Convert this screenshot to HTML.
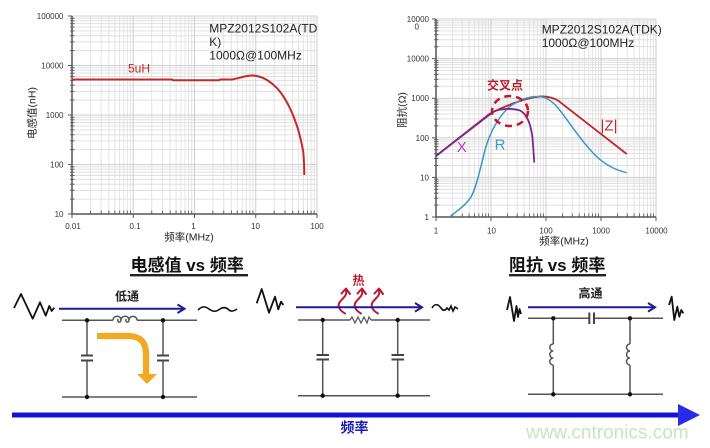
<!DOCTYPE html>
<html><head><meta charset="utf-8">
<style>
html,body{margin:0;padding:0;background:#fff;}
svg{display:block;}
text{font-family:"Liberation Sans","Noto Sans CJK SC",sans-serif;}
</style></head><body>
<svg width="710" height="448" viewBox="0 0 710 448" xmlns="http://www.w3.org/2000/svg">
<defs>
<g id="lv" stroke="#e4e4e4" stroke-width="1">
<line x1="18.44" y1="16" x2="18.44" y2="214"/><line x1="29.22" y1="16" x2="29.22" y2="214"/><line x1="36.87" y1="16" x2="36.87" y2="214"/><line x1="42.81" y1="16" x2="42.81" y2="214"/><line x1="47.65" y1="16" x2="47.65" y2="214"/><line x1="51.76" y1="16" x2="51.76" y2="214"/><line x1="55.31" y1="16" x2="55.31" y2="214"/><line x1="58.43" y1="16" x2="58.43" y2="214"/>
</g>
<g id="lh" stroke="#e0e0e0" stroke-width="1">
<line x1="72" y1="-14.9" x2="317" y2="-14.9"/><line x1="72" y1="-23.62" x2="317" y2="-23.62"/><line x1="72" y1="-29.8" x2="317" y2="-29.8"/><line x1="72" y1="-34.6" x2="317" y2="-34.6"/><line x1="72" y1="-38.51" x2="317" y2="-38.51"/><line x1="72" y1="-41.83" x2="317" y2="-41.83"/><line x1="72" y1="-44.7" x2="317" y2="-44.7"/><line x1="72" y1="-47.22" x2="317" y2="-47.22"/>
</g>
<g id="ltx" stroke="#666" stroke-width="1">
<line x1="18.44" y1="210.5" x2="18.44" y2="214"/><line x1="29.22" y1="210.5" x2="29.22" y2="214"/><line x1="36.87" y1="210.5" x2="36.87" y2="214"/><line x1="42.81" y1="210.5" x2="42.81" y2="214"/><line x1="47.65" y1="210.5" x2="47.65" y2="214"/><line x1="51.76" y1="210.5" x2="51.76" y2="214"/><line x1="55.31" y1="210.5" x2="55.31" y2="214"/><line x1="58.43" y1="210.5" x2="58.43" y2="214"/>
</g>
<g id="lty" stroke="#666" stroke-width="1">
<line x1="70" y1="-14.9" x2="74.5" y2="-14.9"/><line x1="70" y1="-23.62" x2="74.5" y2="-23.62"/><line x1="70" y1="-29.8" x2="74.5" y2="-29.8"/><line x1="70" y1="-34.6" x2="74.5" y2="-34.6"/><line x1="70" y1="-38.51" x2="74.5" y2="-38.51"/><line x1="70" y1="-41.83" x2="74.5" y2="-41.83"/><line x1="70" y1="-44.7" x2="74.5" y2="-44.7"/><line x1="70" y1="-47.22" x2="74.5" y2="-47.22"/>
</g>
<g id="rv" stroke="#e4e4e4" stroke-width="1">
<line x1="16.56" y1="19" x2="16.56" y2="217"/><line x1="26.24" y1="19" x2="26.24" y2="217"/><line x1="33.11" y1="19" x2="33.11" y2="217"/><line x1="38.44" y1="19" x2="38.44" y2="217"/><line x1="42.79" y1="19" x2="42.79" y2="217"/><line x1="46.48" y1="19" x2="46.48" y2="217"/><line x1="49.67" y1="19" x2="49.67" y2="217"/><line x1="52.47" y1="19" x2="52.47" y2="217"/>
</g>
<g id="rh" stroke="#e0e0e0" stroke-width="1">
<line x1="436" y1="-11.92" x2="656" y2="-11.92"/><line x1="436" y1="-18.89" x2="656" y2="-18.89"/><line x1="436" y1="-23.84" x2="656" y2="-23.84"/><line x1="436" y1="-27.68" x2="656" y2="-27.68"/><line x1="436" y1="-30.81" x2="656" y2="-30.81"/><line x1="436" y1="-33.46" x2="656" y2="-33.46"/><line x1="436" y1="-35.76" x2="656" y2="-35.76"/><line x1="436" y1="-37.78" x2="656" y2="-37.78"/>
</g>
<g id="rtx" stroke="#666" stroke-width="1">
<line x1="16.56" y1="213.5" x2="16.56" y2="217"/><line x1="26.24" y1="213.5" x2="26.24" y2="217"/><line x1="33.11" y1="213.5" x2="33.11" y2="217"/><line x1="38.44" y1="213.5" x2="38.44" y2="217"/><line x1="42.79" y1="213.5" x2="42.79" y2="217"/><line x1="46.48" y1="213.5" x2="46.48" y2="217"/><line x1="49.67" y1="213.5" x2="49.67" y2="217"/><line x1="52.47" y1="213.5" x2="52.47" y2="217"/>
</g>
<g id="rty" stroke="#666" stroke-width="1">
<line x1="434" y1="-11.92" x2="438.5" y2="-11.92"/><line x1="434" y1="-18.89" x2="438.5" y2="-18.89"/><line x1="434" y1="-23.84" x2="438.5" y2="-23.84"/><line x1="434" y1="-27.68" x2="438.5" y2="-27.68"/><line x1="434" y1="-30.81" x2="438.5" y2="-30.81"/><line x1="434" y1="-33.46" x2="438.5" y2="-33.46"/><line x1="434" y1="-35.76" x2="438.5" y2="-35.76"/><line x1="434" y1="-37.78" x2="438.5" y2="-37.78"/>
</g>
<g id="ha" fill="none" stroke="#c0182c" stroke-width="2" stroke-linecap="round" stroke-linejoin="round">
<path d="M1,0 C-6,-4 -7,-9 -3,-13 C1,-17 3,-19 2,-23"/>
<path d="M-2.5,-20 L2,-25 L6,-19.5"/>
</g>
</defs>

<!-- LEFT CHART grid -->
<use href="#lv" x="72"/><use href="#lv" x="133.25"/><use href="#lv" x="194.5"/><use href="#lv" x="255.75"/>
<use href="#lh" y="214"/><use href="#lh" y="164.5"/><use href="#lh" y="115"/><use href="#lh" y="65.5"/>
<g stroke="#cfcfcf" stroke-width="1">
<line x1="133.25" y1="16" x2="133.25" y2="214"/><line x1="194.5" y1="16" x2="194.5" y2="214"/><line x1="255.75" y1="16" x2="255.75" y2="214"/><line x1="317" y1="16" x2="317" y2="214"/>
<line x1="72" y1="164.5" x2="317" y2="164.5"/><line x1="72" y1="115" x2="317" y2="115"/><line x1="72" y1="65.5" x2="317" y2="65.5"/><line x1="72" y1="16" x2="317" y2="16"/>
</g>
<use href="#ltx" x="72"/><use href="#ltx" x="133.25"/><use href="#ltx" x="194.5"/><use href="#ltx" x="255.75"/>
<use href="#lty" y="214"/><use href="#lty" y="164.5"/><use href="#lty" y="115"/><use href="#lty" y="65.5"/>
<g stroke="#555" stroke-width="1">
<line x1="68" y1="16" x2="72" y2="16"/><line x1="68" y1="65.5" x2="72" y2="65.5"/><line x1="68" y1="115" x2="72" y2="115"/><line x1="68" y1="164.5" x2="72" y2="164.5"/><line x1="68" y1="214" x2="72" y2="214"/>
<line x1="72" y1="214" x2="72" y2="218"/><line x1="133.25" y1="214" x2="133.25" y2="218"/><line x1="194.5" y1="214" x2="194.5" y2="218"/><line x1="255.75" y1="214" x2="255.75" y2="218"/><line x1="317" y1="214" x2="317" y2="218"/>
</g>
<g stroke="#555" stroke-width="1.5">
<line x1="72" y1="16" x2="72" y2="214"/><line x1="72" y1="214" x2="317" y2="214"/>
</g>
<g font-size="8" fill="#333" text-anchor="end">
<text x="63.5" y="19">100000</text><text x="63.5" y="68.5">10000</text><text x="63.5" y="118">1000</text><text x="63.5" y="167.5">100</text><text x="63.5" y="217">10</text>
</g>
<g font-size="8" fill="#333" text-anchor="middle">
<text x="73" y="229">0.01</text><text x="135" y="229">0.1</text><text x="193.5" y="229">1</text><text x="255.5" y="229">10</text><text x="317" y="229">100</text>
</g>
<text x="189" y="240.5" font-size="10.5" fill="#222" text-anchor="middle">频率(MHz)</text>
<text transform="translate(35.5,113) rotate(-90)" font-size="10.5" fill="#222" text-anchor="middle">电感值(nH)</text>
<g font-size="12" fill="#222">
<text x="209.3" y="32.5">MPZ2012S102A(TD</text><text x="209.3" y="46">K)</text><text x="209.3" y="59.5">1000Ω@100MHz</text>
</g>
<text x="128" y="72.5" font-size="12" fill="#c62828">5uH</text>
<path d="M72,79.5 L172,79.5 L173,80.3 L219,80.3 L220,79.5 L232,79.5 C240,78 246,75.5 252,75.5 C258,75.5 262,77 267,80 C275,85 281,92 285,99 C290,107 294,117 297,126 C300,135 302,145 303.3,152 C304,160 304.3,168 304.3,175" fill="none" stroke="#c62828" stroke-width="2"/>

<!-- RIGHT CHART grid -->
<use href="#rv" x="436"/><use href="#rv" x="491"/><use href="#rv" x="546"/><use href="#rv" x="601"/>
<use href="#rh" y="217"/><use href="#rh" y="177.4"/><use href="#rh" y="137.8"/><use href="#rh" y="98.2"/><use href="#rh" y="58.6"/>
<g stroke="#cfcfcf" stroke-width="1">
<line x1="491" y1="19" x2="491" y2="217"/><line x1="546" y1="19" x2="546" y2="217"/><line x1="601" y1="19" x2="601" y2="217"/><line x1="656" y1="19" x2="656" y2="217"/>
<line x1="436" y1="177.4" x2="656" y2="177.4"/><line x1="436" y1="137.8" x2="656" y2="137.8"/><line x1="436" y1="98.2" x2="656" y2="98.2"/><line x1="436" y1="58.6" x2="656" y2="58.6"/><line x1="436" y1="19" x2="656" y2="19"/>
</g>
<use href="#rtx" x="436"/><use href="#rtx" x="491"/><use href="#rtx" x="546"/><use href="#rtx" x="601"/>
<use href="#rty" y="217"/><use href="#rty" y="177.4"/><use href="#rty" y="137.8"/><use href="#rty" y="98.2"/><use href="#rty" y="58.6"/>
<g stroke="#555" stroke-width="1">
<line x1="432" y1="19" x2="436" y2="19"/><line x1="432" y1="58.6" x2="436" y2="58.6"/><line x1="432" y1="98.2" x2="436" y2="98.2"/><line x1="432" y1="137.8" x2="436" y2="137.8"/><line x1="432" y1="177.4" x2="436" y2="177.4"/><line x1="432" y1="217" x2="436" y2="217"/>
<line x1="436" y1="217" x2="436" y2="221"/><line x1="491" y1="217" x2="491" y2="221"/><line x1="546" y1="217" x2="546" y2="221"/><line x1="601" y1="217" x2="601" y2="221"/><line x1="656" y1="217" x2="656" y2="221"/>
</g>
<g stroke="#555" stroke-width="1.5">
<line x1="436" y1="19" x2="436" y2="217"/><line x1="436" y1="217" x2="656" y2="217"/>
</g>
<g font-size="8" fill="#333" text-anchor="end">
<text x="429" y="22">10000</text><text x="429" y="61.6">10000</text><text x="429" y="101.2">1000</text><text x="429" y="140.8">100</text><text x="429" y="180.4">10</text><text x="429" y="220">1</text>
</g>
<text x="414.5" y="29.5" font-size="8" fill="#333">0</text>
<g font-size="8" fill="#333" text-anchor="middle">
<text x="436" y="233.5">1</text><text x="491.5" y="233.5">10</text><text x="546" y="233.5">100</text><text x="601" y="233.5">1000</text><text x="656.5" y="233.5">10000</text>
</g>
<text x="564" y="244.5" font-size="10.5" fill="#222" text-anchor="middle">频率(MHz)</text>
<text transform="translate(405.5,110) rotate(-90)" font-size="10.5" fill="#222" text-anchor="middle">阻抗(Ω)</text>
<g font-size="12" fill="#222">
<text x="541.7" y="33.5">MPZ2012S102A(TDK)</text><text x="541.7" y="47">1000Ω@100MHz</text>
</g>
<!-- curves -->
<path d="M436,156 L490,113.5 C505,106 525,98 540,96.5 C548,96 553,98 558,100.5 L626.7,154" fill="none" stroke="#c0282e" stroke-width="1.8"/>
<path d="M450,216.7 C458,210 466,205 471,197 C476,188 480,170 485,150 C490,132 498,118 508,108 C518,100 528,96.5 538,96.5 C546,96.5 552,101 558,108 C568,120 580,140 595,155 C605,165 615,170 626.7,172.7" fill="none" stroke="#3a96c8" stroke-width="1.5"/>
<path d="M436,156 L493,112 C500,108.5 512,108 520,110.5 C527,114 531,125 532.5,138 L534.3,162.5" fill="none" stroke="#7a2a8e" stroke-width="1.8"/>
<ellipse cx="510" cy="111" rx="18" ry="15" fill="none" stroke="#c0182c" stroke-width="2.5" stroke-dasharray="7,5"/>
<text x="505" y="89.5" font-size="12" font-weight="bold" fill="#b81c2c" text-anchor="middle">交叉点</text>
<text x="461.7" y="152" font-size="15" fill="#b040c0" text-anchor="middle">X</text>
<text x="500" y="149.5" font-size="15" fill="#3a9ac8" text-anchor="middle">R</text>
<text x="609" y="130.5" font-size="15" fill="#c0282e" text-anchor="middle">|Z|</text>

<!-- TITLES -->
<text x="130.5" y="271" font-size="17" font-weight="bold" fill="#111">电感值 vs 频率</text>
<rect x="130" y="274" width="118" height="2.4" fill="#222"/>
<text x="509" y="271" font-size="17" font-weight="bold" fill="#111">阻抗 vs 频率</text>
<rect x="509" y="274" width="97" height="2.4" fill="#222"/>

<!-- LEFT CIRCUIT -->
<polyline points="14,308 21,294 32.7,318.7 40,302.3 45.7,315.7 49.3,306 51.7,311 54.3,307.7" fill="none" stroke="#111" stroke-width="1.8" stroke-linejoin="round"/>
<text x="127" y="300.5" font-size="12" font-weight="bold" fill="#222" text-anchor="middle">低通</text>
<line x1="59" y1="308.7" x2="183" y2="308.7" stroke="#1c1c9c" stroke-width="2"/>
<polyline points="177.5,304.5 184.5,308.7 177.5,313" fill="none" stroke="#1c1c9c" stroke-width="2"/>
<path d="M198,310 C202,306 205,306 209,309 C213,312 216,312 220,309 C223,307 226,307 229,310 C231,312 234,311 237,309" fill="none" stroke="#111" stroke-width="1.6"/>
<g stroke="#555" stroke-width="1.5" fill="none">
<line x1="62" y1="320.3" x2="113" y2="320.3"/><line x1="137" y1="320.3" x2="197" y2="320.3"/>
<path d="M113,320.3 C113,315 121,315 121,320 C121,323 117,323 118,319 M121,320.3 C121,315 129,315 129,320 C129,323 125,323 126,319 M129,320.3 C129,315 137,315 137,320.3"/>
<line x1="62" y1="397" x2="197" y2="397"/>
<line x1="87" y1="320.3" x2="87" y2="355.5"/><line x1="87" y1="360.5" x2="87" y2="397"/>
<line x1="163" y1="320.3" x2="163" y2="355.5"/><line x1="163" y1="360.5" x2="163" y2="397"/>
</g>
<g stroke="#444" stroke-width="2">
<line x1="81" y1="355.5" x2="93" y2="355.5"/><line x1="81" y1="360.5" x2="93" y2="360.5"/>
<line x1="157" y1="355.5" x2="169" y2="355.5"/><line x1="157" y1="360.5" x2="169" y2="360.5"/>
</g>
<g fill="#111"><circle cx="87" cy="320.3" r="2.2"/><circle cx="163" cy="320.3" r="2.2"/><circle cx="87" cy="397" r="2.2"/><circle cx="163" cy="397" r="2.2"/></g>
<path d="M97,336 L128,336 Q146,336 146,354 L146,375" fill="none" stroke="#f2a922" stroke-width="6.3"/>
<polygon points="137,374 157,374 147,384" fill="#f2a922"/>

<!-- MIDDLE CIRCUIT -->
<polyline points="256.7,303.3 261.7,289 269,312.7 275,296.7 278.3,309.3 281,301.7 283.3,305" fill="none" stroke="#111" stroke-width="1.8" stroke-linejoin="round"/>
<use href="#ha" x="344" y="313.5"/><use href="#ha" x="360" y="313.5"/><use href="#ha" x="377" y="313.5"/>
<line x1="296" y1="307.3" x2="421" y2="307.3" stroke="#1c1c9c" stroke-width="2"/>
<polyline points="415,303 422,307.3 415,311.6" fill="none" stroke="#1c1c9c" stroke-width="2"/>
<text x="358.5" y="284.5" font-size="12" font-weight="bold" fill="#c0182c" text-anchor="middle">热</text>
<path d="M432,308 C435,303 438,304 441,308 C443,311 445,311 447,308 L449,310 L451,306 L453,311 L455,307 L458,309" fill="none" stroke="#111" stroke-width="1.6"/>
<g stroke="#555" stroke-width="1.5" fill="none">
<line x1="298" y1="320" x2="350" y2="320"/><line x1="371" y1="320" x2="430" y2="320"/>
<polyline points="350,320 352,317 355,323 358,317 361,323 364,317 367,323 369,317 371,320" stroke-width="1.2"/>
<line x1="298" y1="395.7" x2="430" y2="395.7"/>
<line x1="322.7" y1="320" x2="322.7" y2="355"/><line x1="322.7" y1="359.5" x2="322.7" y2="395.7"/>
<line x1="397.7" y1="320" x2="397.7" y2="355"/><line x1="397.7" y1="359.5" x2="397.7" y2="395.7"/>
</g>
<g stroke="#444" stroke-width="2">
<line x1="316.5" y1="355" x2="329" y2="355"/><line x1="316.5" y1="359.5" x2="329" y2="359.5"/>
<line x1="391.5" y1="355" x2="404" y2="355"/><line x1="391.5" y1="359.5" x2="404" y2="359.5"/>
</g>
<g fill="#111"><circle cx="322.7" cy="320" r="2.2"/><circle cx="397.7" cy="320" r="2.2"/><circle cx="322.7" cy="395.7" r="2.2"/><circle cx="397.7" cy="395.7" r="2.2"/></g>

<!-- RIGHT CIRCUIT -->
<polyline points="507,310 510,297 514,321 516.5,306 518,317 519.5,309 521,314" fill="none" stroke="#111" stroke-width="1.8" stroke-linejoin="round"/>
<polyline points="669,305 671.7,296.7 674.3,320 677.3,306.7 679.3,316.7 681.3,310 683.3,313.3" fill="none" stroke="#111" stroke-width="1.8" stroke-linejoin="round"/>
<text x="590.5" y="297.5" font-size="12" font-weight="bold" fill="#222" text-anchor="middle">高通</text>
<line x1="528" y1="307.3" x2="654" y2="307.3" stroke="#1c1c9c" stroke-width="2"/>
<polyline points="648,303 655,307.3 648,311.6" fill="none" stroke="#1c1c9c" stroke-width="2"/>
<g stroke="#555" stroke-width="1.5" fill="none">
<line x1="528" y1="318.3" x2="589.3" y2="318.3"/><line x1="594" y1="318.3" x2="663" y2="318.3"/>
<line x1="528" y1="394.3" x2="663" y2="394.3"/>
<line x1="553.3" y1="318.3" x2="553.3" y2="344"/><line x1="553.3" y1="365" x2="553.3" y2="394.3"/>
<line x1="630" y1="318.3" x2="630" y2="344"/><line x1="630" y1="365" x2="630" y2="394.3"/>
<path d="M553.3,344 a3.5,3.5 0 0 0 0,7 a3.5,3.5 0 0 0 0,7 a3.5,3.5 0 0 0 0,7"/>
<path d="M630,344 a3.5,3.5 0 0 0 0,7 a3.5,3.5 0 0 0 0,7 a3.5,3.5 0 0 0 0,7"/>
</g>
<g stroke="#444" stroke-width="2">
<line x1="589.3" y1="312.5" x2="589.3" y2="324"/><line x1="594" y1="312.5" x2="594" y2="324"/>
</g>
<g fill="#111"><circle cx="553.3" cy="318.3" r="2.2"/><circle cx="630" cy="318.3" r="2.2"/><circle cx="553.3" cy="394.3" r="2.2"/><circle cx="630" cy="394.3" r="2.2"/></g>

<!-- BIG FREQUENCY ARROW -->
<rect x="12" y="412.5" width="668" height="5" fill="#1414d8"/>
<polygon points="678,404 700,415 678,426" fill="#2a2ae8"/>
<text x="354.5" y="432.5" font-size="14" font-weight="bold" fill="#1a1ab0" text-anchor="middle">频率</text>
<text x="526" y="438.5" font-size="19" fill="#c6e6be">www.cntronics.com</text>
</svg>
</body></html>
